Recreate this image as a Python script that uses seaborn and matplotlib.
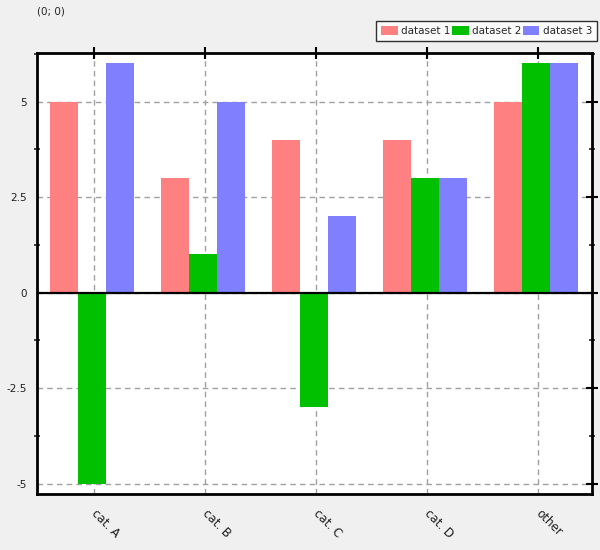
import matplotlib
matplotlib.use("Agg")
import matplotlib.pyplot as plt
import matplotlib.transforms as mtransforms
from matplotlib.ticker import MultipleLocator, FixedLocator
import seaborn as sns
import pandas as pd

categories = ["cat. A", "cat. B", "cat. C", "cat. D", "other"]
dataset1 = [5, 3, 4, 4, 5]
dataset2 = [-5, 1, -3, 3, 6]
dataset3 = [6, 5, 2, 3, 6]
series_names = ["dataset 1", "dataset 2", "dataset 3"]
colors = ["#ff8080", "#00c000", "#8080ff"]
y_ticks = [-5, -2.5, 0, 2.5, 5]
y_tick_labels = ["-5", "-2.5", "0", "2.5", "5"]

rows = []
for name, vals in zip(series_names, [dataset1, dataset2, dataset3]):
    for c, v in zip(categories, vals):
        rows.append({"category": c, "series": name, "value": v})
df = pd.DataFrame(rows)

sns.set_style("white")
plt.rcParams["font.family"] = ["DejaVu Sans"]

fig = plt.figure(figsize=(6, 5.5), dpi=100, facecolor="#f0f0f0")
ax = fig.add_axes([37/600, 1-494/550, (592-37)/600, (494-53)/550])
ax.set_facecolor("white")

sns.barplot(data=df, x="category", y="value", hue="series", order=categories,
            hue_order=series_names, palette=colors, width=0.75, gap=0,
            saturation=1, ax=ax, legend=True, edgecolor="none", linewidth=0, zorder=3)

ax.set_xlim(-0.495, 4.505)
ax.set_ylim(-5.27, 6.27)
ax.axhline(0, color="black", lw=1.6, zorder=4)

tick_offset = 0.022
ax.set_xticks([i + tick_offset for i in range(len(categories))])
ax.set_xticklabels(categories)
ax.yaxis.set_major_locator(FixedLocator(y_ticks))
ax.set_yticklabels(y_tick_labels)
ax.yaxis.set_minor_locator(MultipleLocator(1.25))
ax.grid(True, which="major", color="#a0a0a0", linestyle=(0, (4, 3)), lw=1, zorder=1)
ax.set_axisbelow(True)

for s in ax.spines.values():
    s.set_visible(True)
    s.set_color("black")
    s.set_linewidth(2)

ax.tick_params(axis="both", which="major", direction="inout", length=8, width=1.5,
               top=True, right=True, labelsize=7.5, colors="black", labelcolor="#202020")
ax.tick_params(axis="y", which="minor", direction="inout", length=4, width=1.2,
               left=True, right=True)
ax.tick_params(axis="y", which="major", pad=3)
ax.tick_params(axis="x", which="major", pad=5)
shift = mtransforms.ScaledTranslation(4/100, 0, fig.dpi_scale_trans)
for lbl in ax.get_xticklabels():
    lbl.set_rotation(-45)
    lbl.set_ha("left")
    lbl.set_va("top")
    lbl.set_rotation_mode("anchor")
    lbl.set_fontsize(8.5)
    lbl.set_transform(lbl.get_transform() + shift)

ax.set_xlabel("")
ax.set_ylabel("")

h, l = ax.get_legend_handles_labels()
ax.get_legend().remove()
leg = fig.legend(h, l, loc="upper right", bbox_to_anchor=(0.995, 0.961), ncol=3,
                 frameon=True, fancybox=False, edgecolor="black", fontsize=7.5,
                 handlelength=1.6, handleheight=0.9, handletextpad=0.35,
                 columnspacing=0.1, borderpad=0.45, borderaxespad=0)
leg.get_frame().set_linewidth(1)
leg.get_frame().set_facecolor("white")

fig.text(37/600, 1-12/550, "(0; 0)", fontsize=7.5, ha="left", va="center")

fig.savefig("out.png", dpi=100, facecolor=fig.get_facecolor())
